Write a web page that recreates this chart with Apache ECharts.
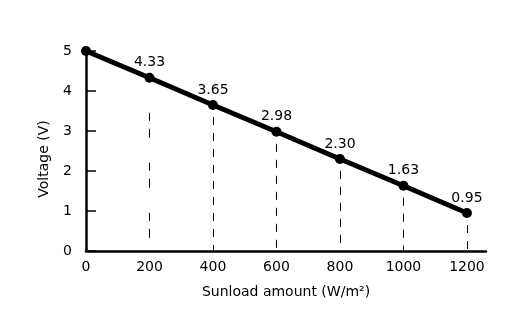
<!DOCTYPE html>
<html><head><meta charset="utf-8">
<script src="https://cdn.jsdelivr.net/npm/echarts@6/dist/echarts.min.js"></script>
<style>html,body{margin:0;padding:0;background:#fff}#c{width:532px;height:331px}</style>
</head><body><div id="c"></div>
<script>
var sunload = [0, 200, 400, 600, 800, 1000, 1200];
var voltage = [5, 4.33, 3.65, 2.98, 2.30, 1.63, 0.95];
var labels = ['', '4.33', '3.65', '2.98', '2.30', '1.63', '0.95'];
var xTicks = [0, 200, 400, 600, 800, 1000, 1200];
var yTicks = [0, 1, 2, 3, 4, 5];

var font = 'DejaVu Sans, sans-serif';
var pts = sunload.map(function (x, i) { return [x, voltage[i]]; });
var drops = [];
for (var i = 1; i < sunload.length; i++) {
  var ls = i === 1
    ? { color: '#000', width: 1, type: [0, 35, 8, 8, 9, 25, 8, 8, 9, 25, 8, 8, 9, 25] }
    : { color: '#000', width: 1, type: [8, 8], dashOffset: 4 };
  drops.push([{ coord: [sunload[i], voltage[i]], lineStyle: ls }, { coord: [sunload[i], 0], lineStyle: ls }]);
}
var chart = echarts.init(document.getElementById('c'), null, { renderer: 'canvas' });
chart.setOption({
  animation: false,
  grid: { left: 86, right: 46, top: 51, bottom: 80 },
  xAxis: {
    type: 'value', min: 0, max: 1260, interval: 200,
    name: 'Sunload amount (W/m²)', nameLocation: 'middle', nameGap: 34,
    nameTextStyle: { color: '#000', fontSize: 14, fontFamily: font },
    axisLine: { lineStyle: { color: '#000', width: 2.5 } },
    axisTick: { show: false },
    splitLine: { show: false },
    axisLabel: {
      color: '#000', fontSize: 14, fontFamily: font, margin: 9,
      formatter: function (v) { return xTicks.indexOf(v) >= 0 ? String(v) : ''; },
      showMaxLabel: false
    }
  },
  yAxis: {
    type: 'value', min: 0, max: 5, interval: 1,
    name: 'Voltage (V)', nameLocation: 'middle', nameGap: 35, nameRotate: 90,
    nameTextStyle: { color: '#000', fontSize: 14, fontFamily: font, padding: [0, 0, 0, -16] },
    axisLine: { show: true, lineStyle: { color: '#000', width: 2.5 } },
    axisTick: { show: true, inside: true, length: 10, lineStyle: { color: '#000', width: 1.5 } },
    splitLine: { show: false },
    axisLabel: { color: '#000', fontSize: 14, fontFamily: font, margin: 14,
      formatter: function (v) { return yTicks.indexOf(v) >= 0 ? String(v) : ''; } }
  },
  series: [{
    type: 'line', data: pts,
    lineStyle: { color: '#000', width: 5 },
    itemStyle: { color: '#000' },
    symbol: 'circle', symbolSize: 10,
    label: {
      show: true, position: 'top', distance: 3, color: '#000', fontSize: 14, fontFamily: font,
      formatter: function (p) { return labels[p.dataIndex]; }
    },
    markLine: {
      silent: true, symbol: 'none', label: { show: false },
      lineStyle: { color: '#000', type: [8, 8], width: 1 },
      data: drops
    },
    z: 3
  }]
});
</script></body></html>
